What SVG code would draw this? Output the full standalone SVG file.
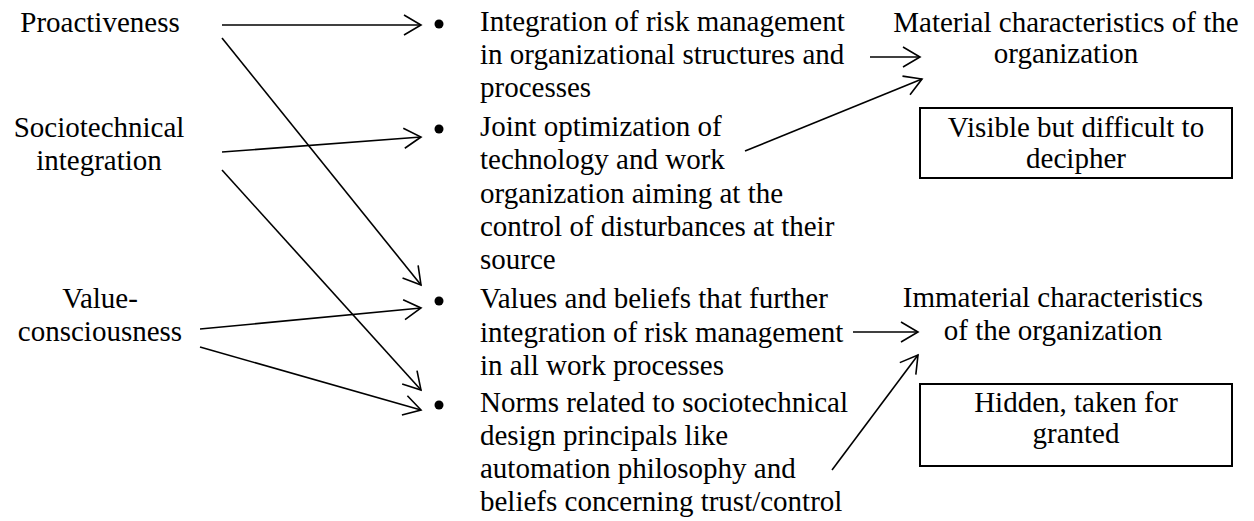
<svg xmlns="http://www.w3.org/2000/svg" width="1254" height="521" viewBox="0 0 1254 521">
<style>
text{font-family:"Liberation Serif","Times New Roman",serif;font-size:29px;fill:#000}
.c{text-anchor:middle}
.ln{stroke:#000;stroke-width:1.6;fill:none}
.box{fill:none;stroke:#000;stroke-width:2}
</style>
<defs>
<marker id="ah" markerUnits="userSpaceOnUse" viewBox="0 0 20 22" refX="18" refY="11" markerWidth="20" markerHeight="22" orient="auto">
<path d="M1,1 L18,11 L1,21" fill="none" stroke="#000" stroke-width="1.6"/>
</marker>
</defs>
<rect width="1254" height="521" fill="#fff"/>
<g id="proactiveness"><text class="c" x="100" y="32">Proactiveness</text></g>
<g id="sociotechnical"><text class="c" x="99" y="137">Sociotechnical</text><text class="c" x="99" y="170">integration</text></g>
<g id="value"><text class="c" x="100" y="308">Value-</text><text class="c" x="100" y="341">consciousness</text></g>
<g id="item1"><circle cx="439" cy="24" r="4.5"/><text x="480" y="31">Integration of risk management</text><text x="480" y="64">in organizational structures and</text><text x="480" y="97">processes</text></g>
<g id="item2"><circle cx="439" cy="129" r="4.5"/><text x="480" y="136">Joint optimization of</text><text x="480" y="169">technology and work</text><text x="480" y="203">organization aiming at the</text><text x="480" y="236">control of disturbances at their</text><text x="480" y="269">source</text></g>
<g id="item3"><circle cx="439" cy="301" r="4.5"/><text x="480" y="308">Values and beliefs that further</text><text x="480" y="342">integration of risk management</text><text x="480" y="375">in all work processes</text></g>
<g id="item4"><circle cx="439" cy="405" r="4.5"/><text x="480" y="412">Norms related to sociotechnical</text><text x="480" y="445">design principals like</text><text x="480" y="478">automation philosophy and</text><text x="480" y="511">beliefs concerning trust/control</text></g>
<g id="material"><text class="c" x="1066" y="32">Material characteristics of the</text><text class="c" x="1066" y="63">organization</text></g>
<g id="visible"><rect class="box" x="920" y="108" width="312" height="70"/><text class="c" x="1076" y="137">Visible but difficult to</text><text class="c" x="1076" y="168">decipher</text></g>
<g id="immaterial"><text class="c" x="1053" y="307">Immaterial characteristics</text><text class="c" x="1053" y="340">of the organization</text></g>
<g id="hidden"><rect class="box" x="920" y="384" width="312" height="82"/><text class="c" x="1076" y="412">Hidden, taken for</text><text class="c" x="1076" y="443">granted</text></g>
<g id="connectors">
<line class="ln" x1="222" y1="25" x2="421" y2="25" marker-end="url(#ah)"/>
<line class="ln" x1="222" y1="38" x2="421" y2="285" marker-end="url(#ah)"/>
<line class="ln" x1="222" y1="152" x2="421" y2="137" marker-end="url(#ah)"/>
<line class="ln" x1="222" y1="170" x2="421" y2="390" marker-end="url(#ah)"/>
<line class="ln" x1="200" y1="329" x2="421" y2="308" marker-end="url(#ah)"/>
<line class="ln" x1="200" y1="347" x2="421" y2="410" marker-end="url(#ah)"/>
<line class="ln" x1="870" y1="57" x2="920" y2="57" marker-end="url(#ah)"/>
<line class="ln" x1="745" y1="151" x2="922" y2="79" marker-end="url(#ah)"/>
<line class="ln" x1="853" y1="332" x2="918" y2="332" marker-end="url(#ah)"/>
<line class="ln" x1="832" y1="470" x2="918" y2="355" marker-end="url(#ah)"/>
</g>
</svg>
